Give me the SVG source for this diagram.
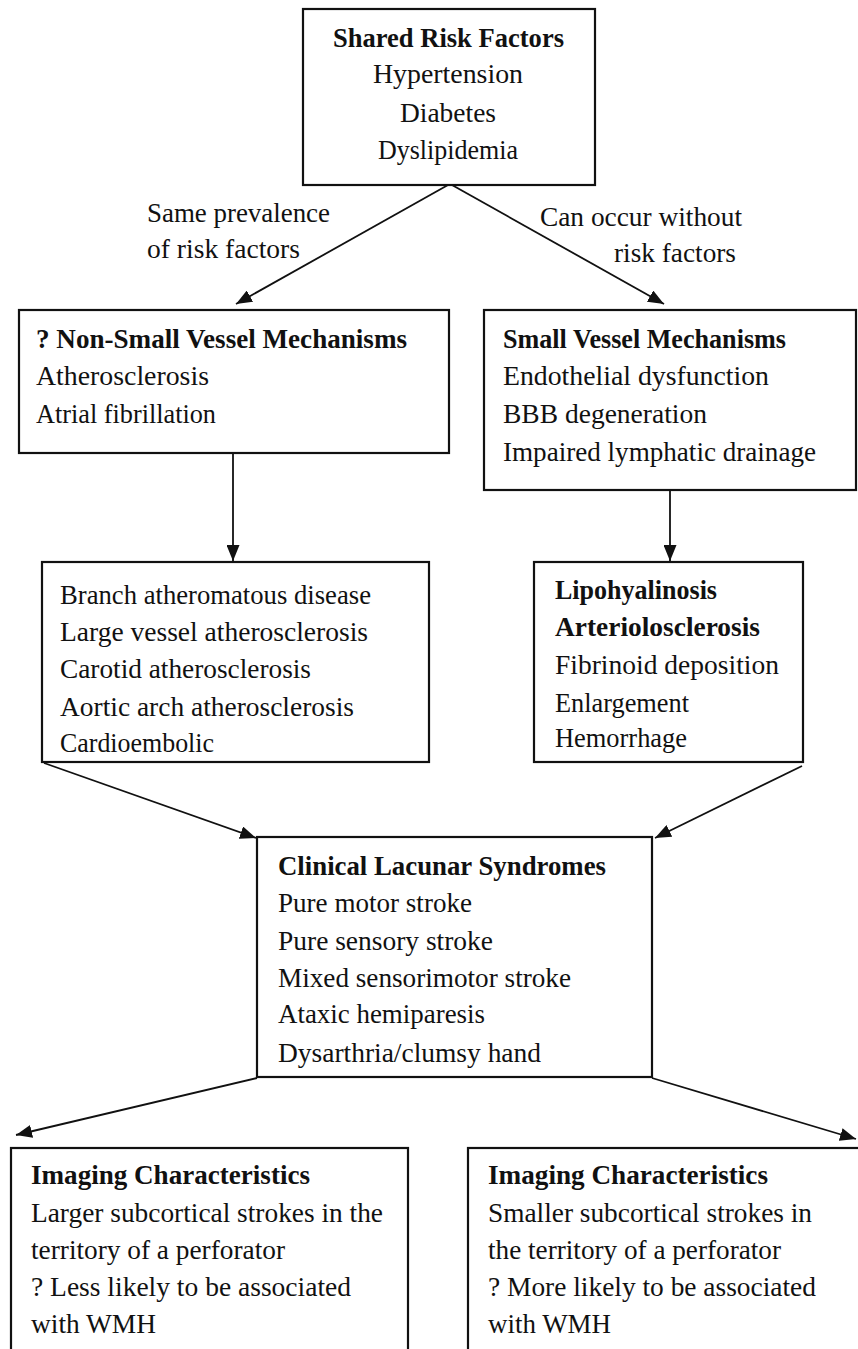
<svg xmlns="http://www.w3.org/2000/svg" width="858" height="1349" viewBox="0 0 858 1349">
<style>
.box{fill:#fff;stroke:#111;stroke-width:2.2}
text{font-family:"Liberation Serif","Times New Roman",serif;font-size:26.5px;fill:#111}
.b{font-weight:bold}
.conn{stroke:#111;stroke-width:1.8;fill:none}
</style>
<defs>
<marker id="ah" viewBox="0 0 16 13" refX="16" refY="6.5" markerWidth="16" markerHeight="13" markerUnits="userSpaceOnUse" orient="auto">
<path d="M0,0 L16,6.5 L0,13 z" fill="#111"/>
</marker>
</defs>
<rect width="858" height="1349" fill="#fff"/>
<g id="connectors">
<path class="conn" d="M448,185 L236,304" marker-end="url(#ah)"/>
<path class="conn" d="M452,185 L664,304" marker-end="url(#ah)"/>
<path class="conn" d="M233,453 L233,561" marker-end="url(#ah)"/>
<path class="conn" d="M670,490 L670,561" marker-end="url(#ah)"/>
<path class="conn" d="M44,763 L256,838" marker-end="url(#ah)"/>
<path class="conn" d="M802,766 L655,838" marker-end="url(#ah)"/>
<path class="conn" d="M257,1078 L16,1135" marker-end="url(#ah)"/>
<path class="conn" d="M652,1078 L856,1139" marker-end="url(#ah)"/>
<text x="147" y="222" textLength="183" lengthAdjust="spacingAndGlyphs">Same prevalence</text>
<text x="147" y="258" textLength="153" lengthAdjust="spacingAndGlyphs">of risk factors</text>
<text x="540" y="226" textLength="202" lengthAdjust="spacingAndGlyphs">Can occur without</text>
<text x="614" y="262" textLength="122" lengthAdjust="spacingAndGlyphs">risk factors</text>
</g>
<g id="risk-factors">
<rect class="box" x="303" y="9" width="292" height="176"/>
<text class="b" x="333" y="47" textLength="231" lengthAdjust="spacingAndGlyphs">Shared Risk Factors</text>
<text x="373" y="83" textLength="150" lengthAdjust="spacingAndGlyphs">Hypertension</text>
<text x="400" y="122" textLength="96" lengthAdjust="spacingAndGlyphs">Diabetes</text>
<text x="378" y="159" textLength="140" lengthAdjust="spacingAndGlyphs">Dyslipidemia</text>
</g>
<g id="non-small-vessel">
<rect class="box" x="19" y="310" width="430" height="143"/>
<text class="b" x="36" y="348" textLength="371" lengthAdjust="spacingAndGlyphs">? Non-Small Vessel Mechanisms</text>
<text x="36" y="385" textLength="173" lengthAdjust="spacingAndGlyphs">Atherosclerosis</text>
<text x="36" y="423" textLength="180" lengthAdjust="spacingAndGlyphs">Atrial fibrillation</text>
</g>
<g id="small-vessel">
<rect class="box" x="484" y="310" width="372" height="180"/>
<text class="b" x="503" y="348" textLength="283" lengthAdjust="spacingAndGlyphs">Small Vessel Mechanisms</text>
<text x="503" y="385" textLength="266" lengthAdjust="spacingAndGlyphs">Endothelial dysfunction</text>
<text x="503" y="423" textLength="204" lengthAdjust="spacingAndGlyphs">BBB degeneration</text>
<text x="503" y="461" textLength="313" lengthAdjust="spacingAndGlyphs">Impaired lymphatic drainage</text>
</g>
<g id="large-artery">
<rect class="box" x="42" y="562" width="387" height="200"/>
<text x="60" y="604" textLength="311" lengthAdjust="spacingAndGlyphs">Branch atheromatous disease</text>
<text x="60" y="641" textLength="308" lengthAdjust="spacingAndGlyphs">Large vessel atherosclerosis</text>
<text x="60" y="678" textLength="251" lengthAdjust="spacingAndGlyphs">Carotid atherosclerosis</text>
<text x="60" y="716" textLength="294" lengthAdjust="spacingAndGlyphs">Aortic arch atherosclerosis</text>
<text x="60" y="752" textLength="154" lengthAdjust="spacingAndGlyphs">Cardioembolic</text>
</g>
<g id="lipohyalinosis">
<rect class="box" x="534" y="562" width="269" height="200"/>
<text class="b" x="555" y="599" textLength="162" lengthAdjust="spacingAndGlyphs">Lipohyalinosis</text>
<text class="b" x="555" y="636" textLength="205" lengthAdjust="spacingAndGlyphs">Arteriolosclerosis</text>
<text x="555" y="674" textLength="224" lengthAdjust="spacingAndGlyphs">Fibrinoid deposition</text>
<text x="555" y="712" textLength="134" lengthAdjust="spacingAndGlyphs">Enlargement</text>
<text x="555" y="747" textLength="132" lengthAdjust="spacingAndGlyphs">Hemorrhage</text>
</g>
<g id="clinical">
<rect class="box" x="257" y="837" width="395" height="240"/>
<text class="b" x="278" y="875" textLength="328" lengthAdjust="spacingAndGlyphs">Clinical Lacunar Syndromes</text>
<text x="278" y="912" textLength="194" lengthAdjust="spacingAndGlyphs">Pure motor stroke</text>
<text x="278" y="950" textLength="215" lengthAdjust="spacingAndGlyphs">Pure sensory stroke</text>
<text x="278" y="987" textLength="293" lengthAdjust="spacingAndGlyphs">Mixed sensorimotor stroke</text>
<text x="278" y="1023" textLength="207" lengthAdjust="spacingAndGlyphs">Ataxic hemiparesis</text>
<text x="278" y="1062" textLength="263" lengthAdjust="spacingAndGlyphs">Dysarthria/clumsy hand</text>
</g>
<g id="imaging-left">
<rect class="box" x="11" y="1148" width="397" height="220"/>
<text class="b" x="31" y="1184" textLength="279" lengthAdjust="spacingAndGlyphs">Imaging Characteristics</text>
<text x="31" y="1222" textLength="352" lengthAdjust="spacingAndGlyphs">Larger subcortical strokes in the</text>
<text x="31" y="1259" textLength="254" lengthAdjust="spacingAndGlyphs">territory of a perforator</text>
<text x="31" y="1296" textLength="320" lengthAdjust="spacingAndGlyphs">? Less likely to be associated</text>
<text x="31" y="1333" textLength="125" lengthAdjust="spacingAndGlyphs">with WMH</text>
</g>
<g id="imaging-right">
<rect class="box" x="468" y="1148" width="400" height="220"/>
<text class="b" x="488" y="1184" textLength="280" lengthAdjust="spacingAndGlyphs">Imaging Characteristics</text>
<text x="488" y="1222" textLength="324" lengthAdjust="spacingAndGlyphs">Smaller subcortical strokes in</text>
<text x="488" y="1259" textLength="293" lengthAdjust="spacingAndGlyphs">the territory of a perforator</text>
<text x="488" y="1296" textLength="328" lengthAdjust="spacingAndGlyphs">? More likely to be associated</text>
<text x="488" y="1333" textLength="123" lengthAdjust="spacingAndGlyphs">with WMH</text>
</g>
</svg>
